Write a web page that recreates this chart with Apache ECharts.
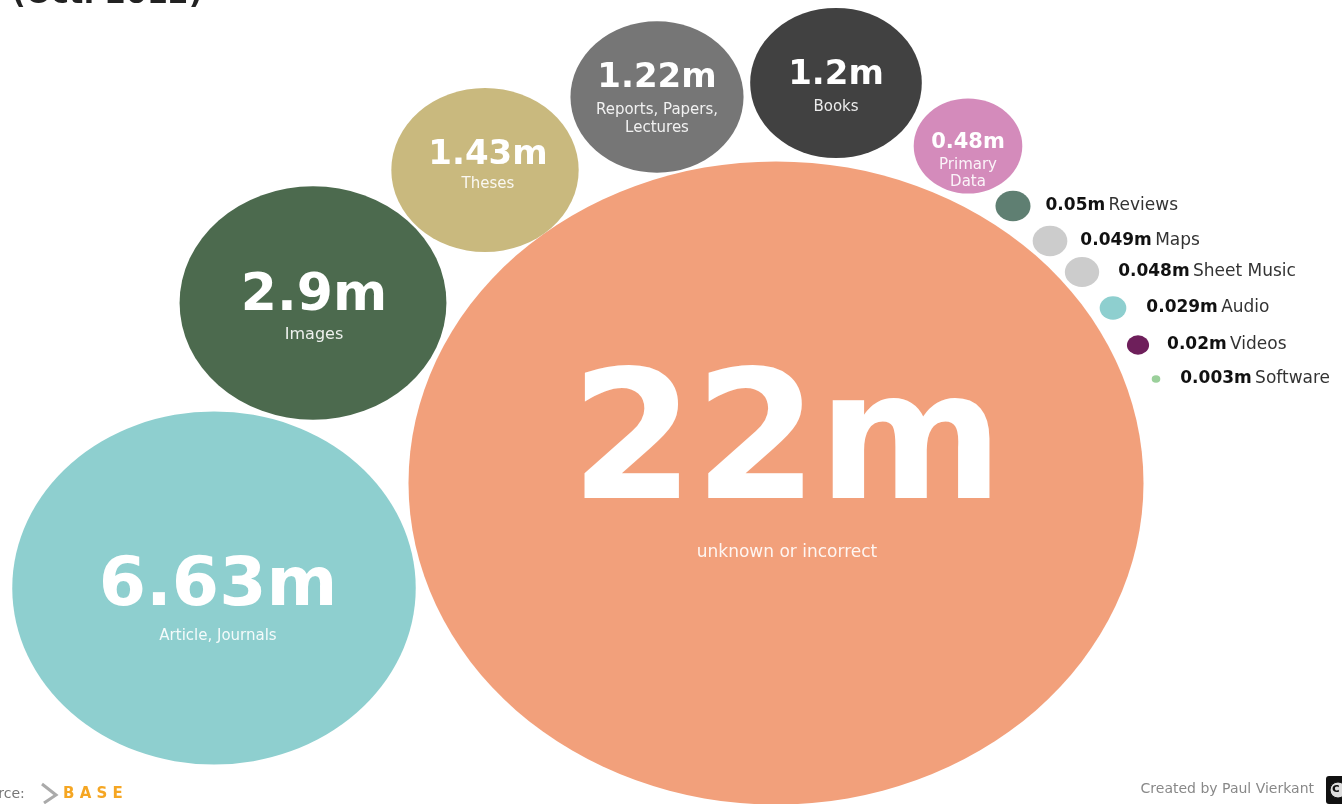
<!DOCTYPE html>
<html>
<head>
<meta charset="utf-8">
<script src="https://cdn.jsdelivr.net/npm/echarts@6/dist/echarts.min.js"></script>
<style>
html,body{margin:0;padding:0;background:#fff;}
#chart{width:1342px;height:804px;}
</style>
</head>
<body>
<div id="chart"></div>
<script>
// ---- data ----
const categories = ['unknown or incorrect','Article, Journals','Images','Theses','Reports, Papers,\nLectures','Books','Primary\nData','Reviews','Maps','Sheet Music','Audio','Videos','Software'];
const values = [22, 6.63, 2.9, 1.43, 1.22, 1.2, 0.48, 0.05, 0.049, 0.048, 0.029, 0.02, 0.003];
const colors = ['#F2A07B','#8ECFCF','#4C6A4E','#C9B97E','#767676','#414141','#D48BBB','#5F7F72','#CCCCCC','#CCCCCC','#8ECFCF','#6E1F5B','#9BD09B'];

// ---- layout (packed positions, in page pixels) ----
const centerX = [776, 214, 313, 485, 657, 836, 968, 1013, 1050, 1082, 1113, 1138, 1156];
const centerY = [483, 588, 303, 170, 97, 83, 146, 206, 241, 272, 308, 345, 379];
// inside-label styling for big bubbles: [numFontSize, numLineHeight, nameFontSize, nameLineHeight, offsetX, offsetY]
const insideStyle = [
  [178, 182, 17, 20, 11, -21],
  [68, 80, 15, 18, 4, 8],
  [52, 60, 16, 18, 1, 2],
  [34, 42, 15, 16, 3, -7],
  [34, 46, 15, 18, 0, -1],
  [34, 46, 15, 18, 0, 1],
  [21, 27, 15, 17, 0, 14]
];
const outsideDist = [15, 13, 19, 20, 18, 20];

const K = 735 / Math.sqrt(22);   // width per sqrt(value)
const ASPECT = 0.875;            // ellipse height / width

const data = values.map((v, i) => {
  const item = {
    name: categories[i],
    value: [centerX[i], centerY[i], v],
    itemStyle: { color: colors[i], opacity: 1 }
  };
  const numTxt = String(v) + 'm';
  if (i < insideStyle.length) {
    const s = insideStyle[i];
    const nameLines = categories[i].split('\n').map(l => '{n|' + l + '}').join('\n');
    item.label = {
      show: true,
      position: 'inside',
      offset: [s[4], s[5]],
      formatter: '{v|' + numTxt + '}\n' + nameLines,
      rich: {
        v: { fontFamily: 'DejaVu Sans', fontWeight: 'bold', fontSize: s[0], lineHeight: s[1], color: '#fff', align: 'center' },
        n: { fontFamily: 'DejaVu Sans', fontWeight: 'normal', fontSize: s[2], lineHeight: s[3], color: 'rgba(255,255,255,0.9)', align: 'center' }
      }
    };
  } else {
    item.label = {
      show: true,
      position: 'right',
      distance: outsideDist[i - insideStyle.length],
      formatter: '{v|' + numTxt + '} {n|' + categories[i] + '}',
      rich: {
        v: { fontFamily: 'DejaVu Sans', fontWeight: 'bold', fontSize: 17, color: '#111' },
        n: { fontFamily: 'DejaVu Sans', fontWeight: 'normal', fontSize: 17, color: '#333' }
      }
    };
  }
  return item;
});

const chart = echarts.init(document.getElementById('chart'));
chart.setOption({
  backgroundColor: '#fff',
  animation: false,
  grid: { left: 0, right: 0, top: 0, bottom: 0 },
  xAxis: { type: 'value', min: 0, max: 1342, show: false },
  yAxis: { type: 'value', min: 0, max: 804, inverse: true, show: false },
  series: [{
    type: 'scatter',
    symbol: 'circle',
    itemStyle: { opacity: 1 },
    symbolSize: function (val) {
      const w = K * Math.sqrt(val[2]);
      return [w, w * ASPECT];
    },
    data: data
  }],
  graphic: [
    { type: 'text', left: 12, top: -20, style: { text: '(Oct. 2012)', fontFamily: 'DejaVu Sans', fontWeight: 'bold', fontSize: 30, fill: '#222' } },
    { type: 'text', left: -28, top: 787, style: { text: 'Source:', fontFamily: 'DejaVu Sans', fontSize: 14, fill: '#777' } },
    { type: 'polyline', shape: { points: [[42, 784], [56, 795], [44, 803]] }, style: { stroke: '#aaa', lineWidth: 3, fill: null } },
    { type: 'text', left: 63, top: 787, style: { text: 'B A S E', fontFamily: 'DejaVu Sans', fontWeight: 'bold', fontSize: 15, fill: '#F5A623' } },
    { type: 'text', right: 28, top: 782, style: { text: 'Created by Paul Vierkant', fontFamily: 'DejaVu Sans', fontSize: 14, fill: '#888' } },
    { type: 'rect', shape: { x: 1326, y: 776, width: 24, height: 28, r: 3 }, style: { fill: '#111' } },
    { type: 'circle', shape: { cx: 1338, cy: 790, r: 8 }, style: { fill: '#ddd', stroke: '#111', lineWidth: 1 } },
    { type: 'text', left: 1332, top: 782, style: { text: 'c', fontFamily: 'DejaVu Sans', fontWeight: 'bold', fontSize: 13, fill: '#111' } }
  ]
});
</script>
</body>
</html>
